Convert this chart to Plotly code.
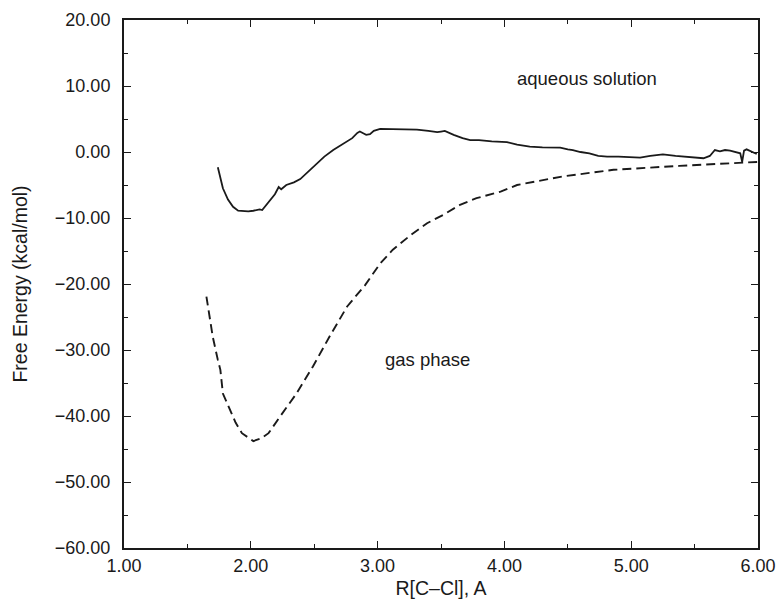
import plotly.graph_objects as go

# Aqueous solution (solid)
aq_r = [1.74, 1.78, 1.82, 1.86, 1.90, 1.94, 1.98, 2.02, 2.07, 2.09, 2.12, 2.15, 2.19, 2.22, 2.24,
        2.28, 2.34, 2.39, 2.45, 2.52, 2.58, 2.65, 2.71, 2.76, 2.80, 2.84, 2.86, 2.89, 2.91, 2.94,
        2.97, 3.02, 3.10, 3.18, 3.25, 3.31, 3.40, 3.47, 3.50, 3.53, 3.60, 3.67, 3.73, 3.80, 3.90,
        4.02, 4.10, 4.20, 4.30, 4.40, 4.44, 4.50, 4.54, 4.60, 4.67, 4.74, 4.81, 4.90, 5.00, 5.07,
        5.15, 5.25, 5.35, 5.45, 5.57, 5.62, 5.66, 5.70, 5.74, 5.78, 5.84, 5.86, 5.875, 5.89, 5.91,
        5.95, 5.99]
aq_g = [-2.3, -5.5, -7.2, -8.3, -8.9, -9.0, -9.0, -8.9, -8.7, -8.8, -8.1, -7.3, -6.4, -5.3, -5.65,
        -5.0, -4.6, -4.1, -3.0, -1.7, -0.7, 0.3, 1.0, 1.6, 2.1, 2.9, 3.1, 2.8, 2.6, 2.7,
        3.2, 3.5, 3.5, 3.4, 3.5, 3.4, 3.2, 3.0, 3.1, 3.2, 2.6, 2.1, 1.8, 1.8, 1.6,
        1.5, 1.1, 0.8, 0.7, 0.6, 0.65, 0.4, 0.3, 0.0, -0.2, -0.6, -0.7, -0.7, -0.8, -0.85,
        -0.6, -0.35, -0.6, -0.75, -0.95, -0.6, 0.3, 0.1, 0.3, 0.2, -0.1, -0.2, -1.5, 0.2, 0.4,
        0.0, -0.3]

# Gas phase (dashed)
gas_r = [1.65, 1.70, 1.74, 1.76, 1.78, 1.84, 1.88, 1.93, 2.02, 2.08, 2.14, 2.23, 2.36, 2.49, 2.62,
         2.76, 2.90, 3.02, 3.12, 3.26, 3.39, 3.52, 3.65, 3.78, 3.97, 4.10, 4.46, 4.86, 5.38, 6.00]
gas_g = [-21.9, -28.0, -31.5, -33.0, -36.6, -39.1, -41.0, -42.6, -43.8, -43.4, -42.6, -40.1, -36.6, -32.5, -28.0,
         -23.4, -20.2, -16.9, -14.8, -12.6, -10.8, -9.5, -8.0, -7.0, -6.0, -5.0, -3.7, -2.7, -2.1, -1.5]

x_ticks = [1, 2, 3, 4, 5, 6]
y_ticks = [20, 10, 0, -10, -20, -30, -40, -50, -60]

FONT = "Liberation Sans, Arial, Helvetica, sans-serif"
INK = "#1a1a1a"

fig = go.Figure()
fig.add_trace(go.Scatter(x=aq_r, y=aq_g, mode="lines",
                         line=dict(color=INK, width=1.8), showlegend=False))
fig.add_trace(go.Scatter(x=gas_r, y=gas_g, mode="lines",
                         line=dict(color=INK, width=1.9, dash="9px,5px"), showlegend=False))

fig.add_annotation(x=4.655, y=11.2, text="aqueous solution", showarrow=False,
                   font=dict(family=FONT, size=18.5, color=INK))
fig.add_annotation(x=3.39, y=-31.5, text="gas phase", showarrow=False,
                   font=dict(family=FONT, size=18.5, color=INK))

axis_common = dict(
    showgrid=False, zeroline=False, showline=True, linecolor=INK, linewidth=2,
    mirror="allticks", ticks="inside", ticklen=7, tickwidth=1.2, tickcolor=INK,
    tickformat=".2f", tickfont=dict(family=FONT, size=18, color=INK),
    minor=dict(ticks="inside", ticklen=4, tickwidth=1.2, tickcolor=INK),
    automargin=False,
)

fig.update_xaxes(range=[1, 6], tickvals=x_ticks, minor_dtick=0.5,
                 title=dict(text="R[C\u2013Cl], A", font=dict(family=FONT, size=19.5, color=INK), standoff=7),
                 ticklabelstandoff=0, **axis_common)
fig.update_yaxes(range=[-60, 20], tickvals=y_ticks, minor_dtick=5,
                 title=dict(text="Free Energy (kcal/mol)", font=dict(family=FONT, size=19.5, color=INK), standoff=22),
                 ticklabelstandoff=8, **axis_common)

fig.update_layout(
    width=776, height=601,
    margin=dict(l=124, r=18, t=20, b=53),
    paper_bgcolor="white", plot_bgcolor="white",
    font=dict(family=FONT, color=INK),
)

fig.write_html("out.html")
